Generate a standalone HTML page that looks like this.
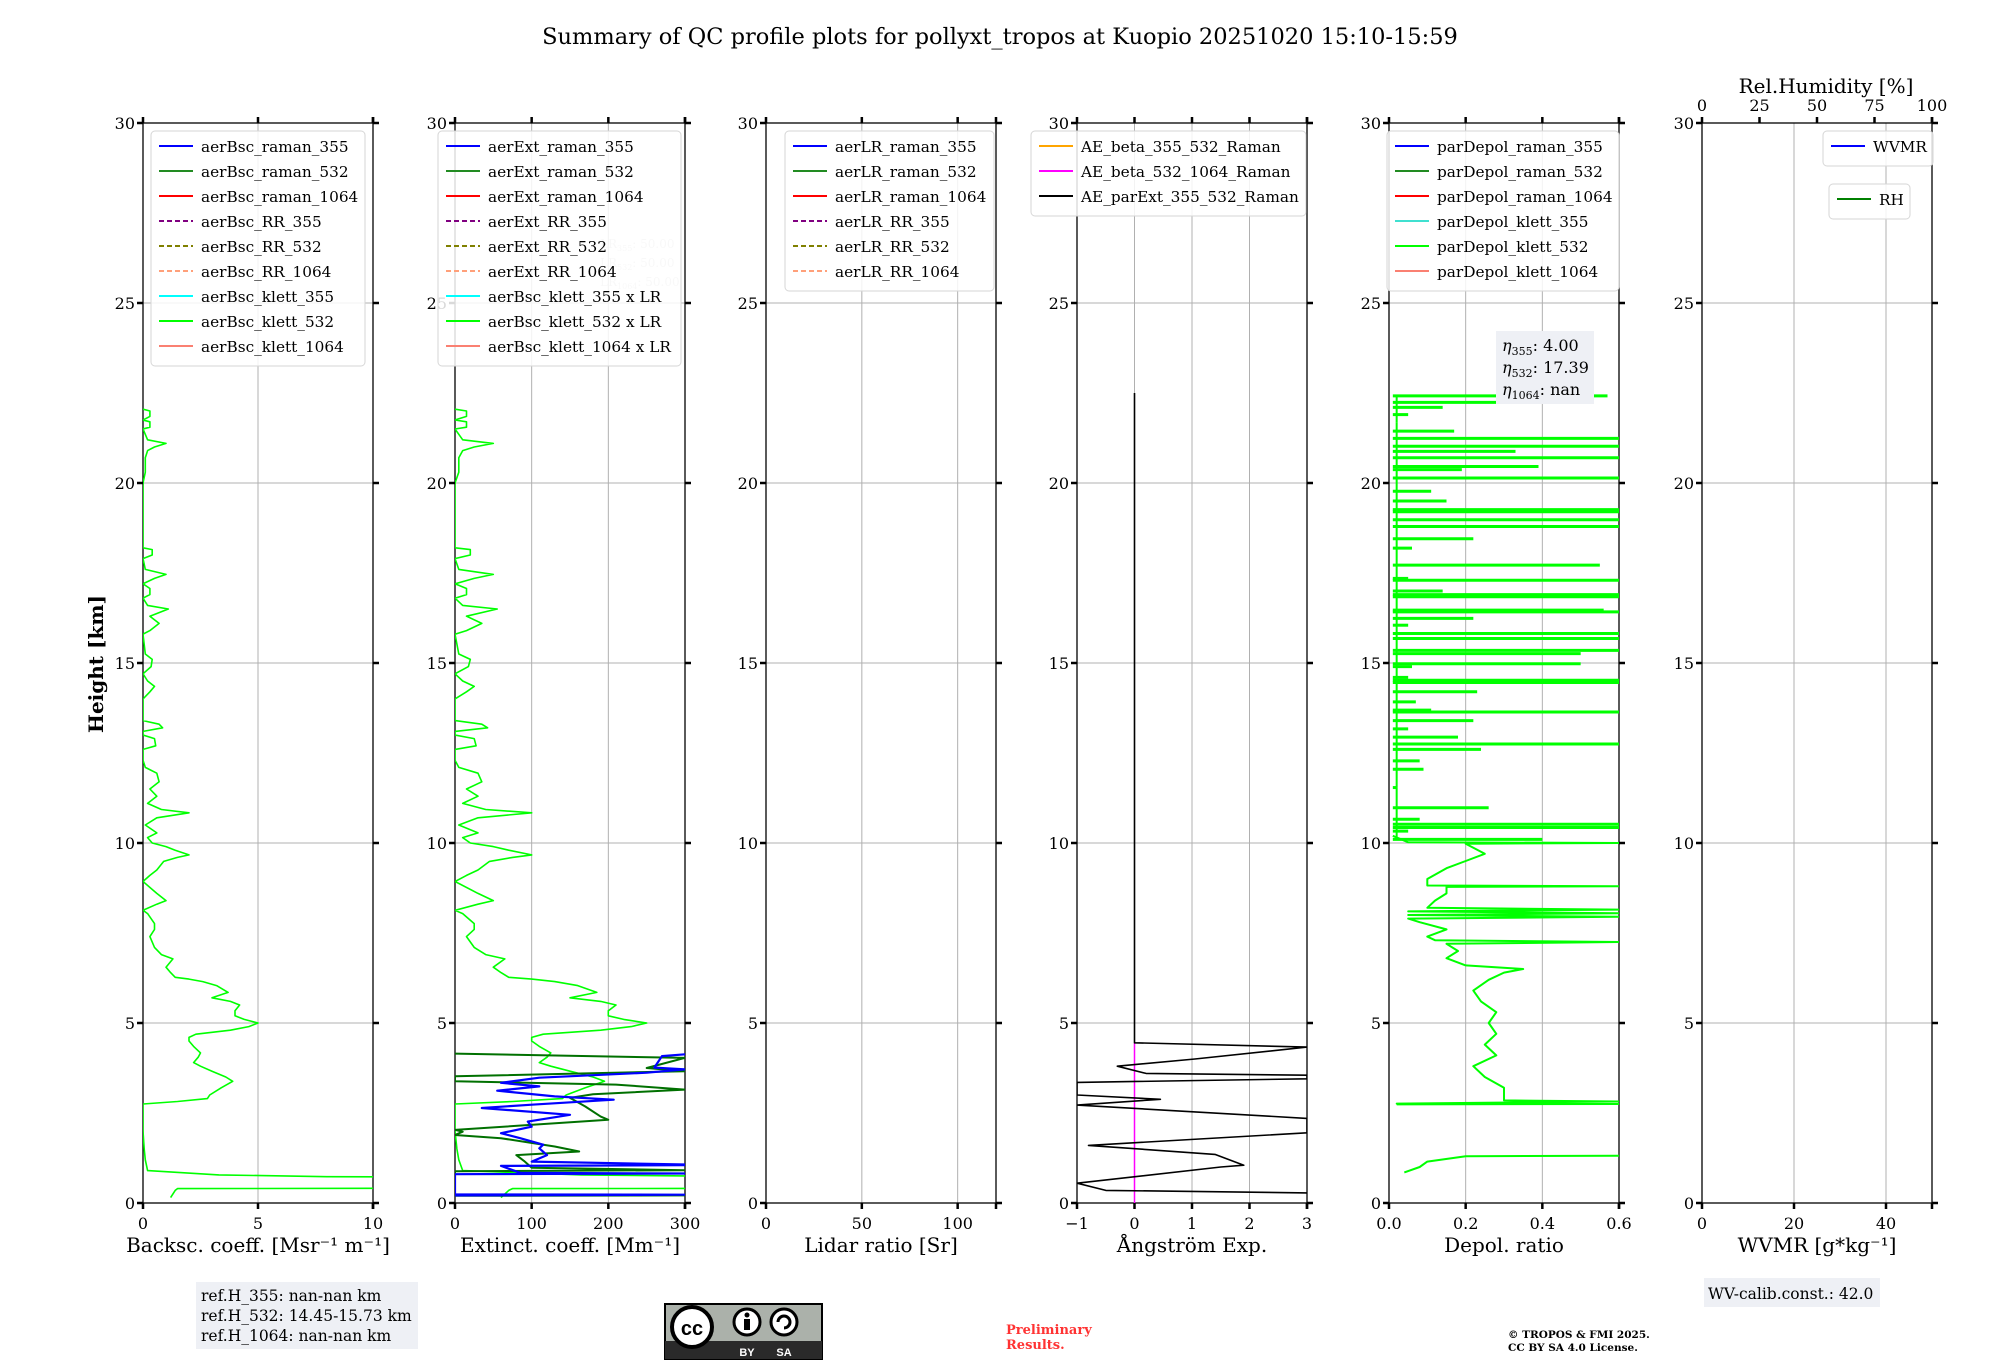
<!DOCTYPE html>
<html><head><meta charset="utf-8">
<style>
html,body{margin:0;padding:0;background:#fff;}
svg{display:block;font-family:"DejaVu Serif","Liberation Serif",serif;}
</style></head>
<body>
<svg id="fig" width="2000" height="1360" viewBox="0 0 2000 1360" xmlns="http://www.w3.org/2000/svg">
<text x="1000" y="44" text-anchor="middle" font-size="22.5" fill="#000">Summary of QC profile plots for pollyxt_tropos at Kuopio 20251020 15:10-15:59</text>
</svg>
<script>
// ---------- data ----------
const yTicks = [0,5,10,15,20,25,30];
const bscHeights = [0.15,0.35,0.40,0.41,0.72,0.73,0.78,0.9,1.2,1.5,2.0,2.75,2.82,2.9,3.0,3.2,3.38,3.5,3.66,3.8,3.9,4.05,4.17,4.35,4.5,4.6,4.69,4.8,4.9,5.0,5.1,5.2,5.34,5.5,5.6,5.7,5.85,6.04,6.15,6.22,6.27,6.4,6.55,6.78,6.9,7.1,7.4,7.6,7.76,8.04,8.13,8.3,8.4,8.6,8.93,9.1,9.25,9.49,9.6,9.67,9.8,9.9,10.0,10.15,10.28,10.5,10.7,10.84,10.93,11.1,11.3,11.5,11.7,11.94,12.1,12.3,12.6,12.7,12.9,13.0,13.1,13.2,13.3,13.4,14.0,14.2,14.35,14.5,14.7,14.9,15.1,15.25,15.8,15.9,16.1,16.3,16.5,16.6,16.8,16.9,17.07,17.2,17.35,17.46,17.6,17.9,18.0,18.15,18.2,19.5,20.0,20.3,20.5,20.7,20.9,21.0,21.1,21.2,21.5,21.55,21.7,21.75,21.85,22.0,22.05];
const bscValues = [1.2,1.4,1.5,14,14,8,3.3,0.2,0.1,0.05,0.0,0.0,1.5,2.8,2.9,3.4,3.9,3.6,3.0,2.5,2.2,2.4,2.5,2.2,2.0,2.0,2.3,3.8,4.6,5.0,4.4,4.0,4.0,4.2,3.8,3.0,3.7,3.2,2.6,2.0,1.4,1.2,1.0,1.3,0.8,0.5,0.3,0.5,0.5,0.2,0.0,0.6,1.0,0.6,0.0,0.3,0.6,0.9,1.5,2.0,1.4,1.0,0.4,0.2,0.6,0.1,0.6,2.0,0.8,0.2,0.6,0.3,0.7,0.6,0.1,0.0,0.0,0.55,0.5,0.0,0.0,0.85,0.7,0.0,0.0,0.3,0.5,0.2,0.0,0.35,0.4,0.1,0.0,0.3,0.7,0.3,1.1,0.2,0.0,0.3,0.3,0.0,0.5,1.0,0.1,0.0,0.4,0.4,0.0,0.0,0.0,0.1,0.1,0.1,0.2,0.5,1.0,0.2,0.0,0.3,0.3,0.0,0.3,0.3,0.0];
const lidarRatio532 = [50];
const ext355Heights = [0.21,0.23,0.24,0.80,0.82,0.84,1.03,1.05,1.07,1.15,1.33,1.52,1.62,1.8,1.94,2.12,2.26,2.45,2.64,2.73,2.87,2.96,3.12,3.24,3.34,3.48,3.62,3.71,3.76,4.08,4.13,4.15];
const ext355Values = [0,300,0,0,300,85,60,300,300,100,120,110,115,85,60,100,95,150,35,100,207,130,55,110,60,110,250,300,260,270,300,300];
const ext532Heights = [0.20,0.21,0.22,0.88,0.91,0.98,1.17,1.33,1.43,1.57,1.8,1.89,1.98,2.03,2.31,2.4,2.68,2.92,3.02,3.15,3.29,3.38,3.52,3.66,3.75,4.03,4.15];
const ext532Values = [0,300,0,0,300,100,90,80,162,130,60,0,10,0,200,190,170,150,180,300,210,0,0,300,250,300,0];
const aeHeights = [22.5,4.45,4.33,4.0,3.8,3.6,3.55,3.45,3.35,3.0,2.88,2.72,2.35,2.2,1.95,1.6,1.35,1.05,1.0,0.55,0.35,0.28];
const aeValues = [0,0,3,1.05,-0.3,0.2,3,3,-1,-1,0.45,-1,3,3,3,-0.8,1.4,1.9,1.5,-1,-0.5,3];
const ae532Heights = [0,4.45];
const ae532Values = [0,0];
const depolHeights = [0.85,1.0,1.15,1.3,1.31,1.33,1.35,2.74,2.75,2.76,2.82,2.85,3.0,3.2,3.5,3.8,4.1,4.4,4.7,5.0,5.3,5.6,5.9,6.2,6.4,6.5,6.6,6.8,7.0,7.2,7.25,7.3,7.4,7.6,7.8,7.9,7.95,8.0,8.05,8.1,8.15,8.2,8.4,8.6,8.78,8.8,8.82,9.0,9.3,9.5,9.7,9.98,10.0,10.02,10.2];
const depolValues = [0.04,0.08,0.1,0.2,0.6,0.6,NaN,0.02,0.6,0.02,0.6,0.3,0.3,0.3,0.25,0.22,0.28,0.25,0.28,0.26,0.28,0.24,0.22,0.26,0.3,0.35,0.2,0.15,0.18,0.15,0.6,0.12,0.1,0.15,0.08,0.05,0.6,0.05,0.6,0.05,0.6,0.1,0.12,0.15,0.15,0.6,0.1,0.1,0.15,0.2,0.25,0.2,0.6,0.05,0.01];
const depolSpikeHeights = [10.1,10.33,10.43,10.52,10.66,10.98,11.54,12.05,12.28,12.6,12.75,12.94,13.17,13.4,13.64,13.69,13.92,14.2,14.46,14.52,14.6,14.9,14.98,15.26,15.35,15.68,15.82,16.05,16.24,16.42,16.47,16.84,16.9,17.0,17.3,17.35,17.72,18.19,18.45,18.79,18.98,19.2,19.26,19.5,19.77,20.14,20.37,20.46,20.7,20.88,21.02,21.24,21.44,21.67,21.9,22.1,22.24,22.42];
const depolSpikeValues = [0.4,0.05,0.6,0.6,0.08,0.26,0.02,0.09,0.08,0.24,0.6,0.18,0.05,0.22,0.6,0.11,0.07,0.23,0.6,0.6,0.05,0.06,0.5,0.5,0.6,0.6,0.6,0.05,0.22,0.6,0.56,0.6,0.6,0.14,0.6,0.05,0.55,0.06,0.22,0.6,0.6,0.6,0.6,0.15,0.11,0.6,0.19,0.39,0.6,0.33,0.6,0.6,0.17,0.01,0.05,0.14,0.45,0.57];

// ---------- layout ----------
const NS = "http://www.w3.org/2000/svg";
const svg = document.getElementById('fig');
const TOP = 123, BOT = 1203, PW = 230;
const panels = [
 {left:143, xmin:0, xmax:10, xt:[0,5,10], xl:['0','5','10'], label:'Backsc. coeff. [Msr\u207B\u00B9 m\u207B\u00B9]'},
 {left:455, xmin:0, xmax:300, xt:[0,100,200,300], xl:['0','100','200','300'], label:'Extinct. coeff. [Mm\u207B\u00B9]'},
 {left:766, xmin:0, xmax:120, xt:[0,50,100], xl:['0','50','100'], label:'Lidar ratio [Sr]'},
 {left:1077, xmin:-1, xmax:3, xt:[-1,0,1,2,3], xl:['\u22121','0','1','2','3'], label:'\u00C5ngstr\u00F6m Exp.'},
 {left:1389, xmin:0, xmax:0.6, xt:[0,0.2,0.4,0.6], xl:['0.0','0.2','0.4','0.6'], label:'Depol. ratio'},
 {left:1702, xmin:0, xmax:50, xt:[0,20,40], xl:['0','20','40'], label:'WVMR [g*kg\u207B\u00B9]'}
];
function X(p,v){return p.left + (v-p.xmin)/(p.xmax-p.xmin)*PW;}
function Y(h){return BOT - (h/30)*(BOT-TOP);}
function el(tag, attrs, parent){const e=document.createElementNS(NS,tag);for(const k in attrs)e.setAttribute(k,attrs[k]);(parent||svg).appendChild(e);return e;}

const defs = el('defs',{});
panels.forEach((p,i)=>{
  const cp = el('clipPath',{id:'clip'+i},defs);
  el('rect',{x:p.left,y:TOP,width:PW,height:BOT-TOP},cp);
});

function polyline(p, i, hs, vs, color, w, name){
  let d='', pen=false;
  hs.forEach((h,k)=>{
    const v=vs[k];
    if(isNaN(v)){pen=false;return;}
    d += (pen?'L':'M') + X(p,v).toFixed(1)+' '+Y(h).toFixed(1)+' ';
    pen=true;
  });
  const e = el('path',{d:d,fill:'none',stroke:color,'stroke-width':w,'clip-path':'url(#clip'+i+')','stroke-linejoin':'round'});
  
  
  return e;
}

panels.forEach((p,i)=>{
  const g = el('g',{});
  
  
  p.xt.forEach(v=>{ const l=el('line',{x1:X(p,v),x2:X(p,v),y1:TOP,y2:BOT,stroke:'#b0b0b0','stroke-width':1},g);
      });
  yTicks.forEach(h=>{ const l=el('line',{x1:p.left,x2:p.left+PW,y1:Y(h),y2:Y(h),stroke:'#b0b0b0','stroke-width':1},g);
      });
  const fr = el('rect',{x:p.left,y:TOP,width:PW,height:BOT-TOP,fill:'none',stroke:'#000','stroke-width':1.3},g);
   
  yTicks.forEach(h=>{
    el('line',{x1:p.left-6,x2:p.left,y1:Y(h),y2:Y(h),stroke:'#000','stroke-width':2.5},g);
    el('line',{x1:p.left+PW,x2:p.left+PW+6,y1:Y(h),y2:Y(h),stroke:'#000','stroke-width':2.5},g);
    const t=el('text',{x:p.left-8,y:Y(h)+6,'text-anchor':'end','font-size':16},g); t.textContent=h;
     
  });
  p.xt.forEach((v,k)=>{
    el('line',{x1:X(p,v),x2:X(p,v),y1:BOT,y2:BOT+6,stroke:'#000','stroke-width':2.5},g);
    if(i!==5) el('line',{x1:X(p,v),x2:X(p,v),y1:TOP-6,y2:TOP,stroke:'#000','stroke-width':2.5},g);
    const t=el('text',{x:X(p,v),y:BOT+26,'text-anchor':'middle','font-size':16},g); t.textContent=p.xl[k];
     
  });
  el('line',{x1:p.left+PW,x2:p.left+PW,y1:BOT,y2:BOT+6,stroke:'#000','stroke-width':2.5},g);
  el('line',{x1:p.left+PW,x2:p.left+PW,y1:TOP-6,y2:TOP,stroke:'#000','stroke-width':2.5},g);
  const xl=el('text',{x:p.left+PW/2,y:1252,'text-anchor':'middle','font-size':20},g); xl.textContent=p.label;
   
});

const P=panels;
polyline(P[0],0,bscHeights,bscValues,'#00ff00',1.6,'aerBsc-klett-532-line');
polyline(P[1],1,bscHeights,bscValues.map(v=>v*lidarRatio532[0]),'#00ff00',1.6,'aerBsc-klett-532-x-lr-line');
polyline(P[1],1,ext532Heights,ext532Values,'#007000',2,'aerExt-raman-532-line');
polyline(P[1],1,ext355Heights,ext355Values,'#0000ff',2.2,'aerExt-raman-355-line');
polyline(P[3],3,ae532Heights,ae532Values,'#ff00ff',1.5,'ae-beta-532-1064-line');
polyline(P[3],3,aeHeights,aeValues,'#000000',1.6,'ae-parext-355-532-line');
polyline(P[4],4,depolHeights,depolValues,'#00ff00',2,'pardepol-klett-532-line');
depolSpikeHeights.forEach((h,k)=>{
  const l=el('line',{x1:X(P[4],0.01),x2:X(P[4],depolSpikeValues[k]),y1:Y(h),y2:Y(h),stroke:'#00ff00','stroke-width':3,'clip-path':'url(#clip4)'});
   
  if(k>0){const l2=el('line',{x1:X(P[4],0.02),x2:X(P[4],0.02),y1:Y(h),y2:Y(depolSpikeHeights[k-1]),stroke:'#00ff00','stroke-width':2,'clip-path':'url(#clip4)'});
   }
});

['355','532','1064'].forEach((w,k)=>{
  const t=el('text',{x:600,y:248+k*19,'font-size':12,fill:'#cfcfcf'});
   
  t.innerHTML='LR<tspan font-size="8" dy="3">'+w+'</tspan><tspan dy="-3">: 50.00</tspan>';
});

function legend(x,y,w,items,name){
  const g=el('g',{});  
  el('rect',{x:x,y:y,width:w,height:items.length*25+10,rx:4,fill:'#fff','fill-opacity':0.85,stroke:'#d6d6d6','stroke-width':1},g);
  items.forEach((it,k)=>{
    const cy=y+15+k*25;
    const ln=el('line',{x1:x+8,x2:x+42,y1:cy,y2:cy,stroke:it[1],'stroke-width':2},g);
    if(it[2]) ln.setAttribute('stroke-dasharray','5,3');
    const t=el('text',{x:x+50,y:cy+6,'font-size':15.3},g); t.textContent=it[0];
     
  });
}
const cols=[['#0000ff'],['#228b22'],['#ff0000'],['#800080',1],['#808000',1],['#ffa07a',1],['#00ffff'],['#00ff00'],['#fa8072']];
function mk(names){return names.map((n,k)=>[n,cols[k][0],cols[k][1]]);}
legend(151,131,214,mk(['aerBsc_raman_355','aerBsc_raman_532','aerBsc_raman_1064','aerBsc_RR_355','aerBsc_RR_532','aerBsc_RR_1064','aerBsc_klett_355','aerBsc_klett_532','aerBsc_klett_1064']),'backscatter-legend');
legend(438,131,243,mk(['aerExt_raman_355','aerExt_raman_532','aerExt_raman_1064','aerExt_RR_355','aerExt_RR_532','aerExt_RR_1064','aerBsc_klett_355 x LR','aerBsc_klett_532 x LR','aerBsc_klett_1064 x LR']),'extinction-legend');
legend(785,131,209,mk(['aerLR_raman_355','aerLR_raman_532','aerLR_raman_1064','aerLR_RR_355','aerLR_RR_532','aerLR_RR_1064']),'lidar-ratio-legend');
legend(1031,131,275,[['AE_beta_355_532_Raman','#ffa500'],['AE_beta_532_1064_Raman','#ff00ff'],['AE_parExt_355_532_Raman','#000000']],'angstrom-legend');
legend(1387,131,232,[['parDepol_raman_355','#0000ff'],['parDepol_raman_532','#228b22'],['parDepol_raman_1064','#ff0000'],['parDepol_klett_355','#40e0d0'],['parDepol_klett_532','#00ff00'],['parDepol_klett_1064','#fa8072']],'depol-legend');
legend(1823,131,110,[['WVMR','#0000ff']],'wvmr-legend');
legend(1829,184,81,[['RH','#008000']],'rh-legend');
</script>
<script>
(function(){
const NS="http://www.w3.org/2000/svg", svg=document.getElementById('fig');
function el(tag,a,p){const e=document.createElementNS(NS,tag);for(const k in a)e.setAttribute(k,a[k]);(p||svg).appendChild(e);return e;}
const yt=el('text',{x:0,y:0,'font-size':20,'font-weight':'bold',transform:'translate(103,664) rotate(-90)','text-anchor':'middle'});
yt.textContent='Height [km]';  
const rhTicks=[0,25,50,75,100];
rhTicks.forEach(v=>{const x=1702+v/100*230;
  el('line',{x1:x,x2:x,y1:117,y2:123,stroke:'#000','stroke-width':2.5});
  const t=el('text',{x:x,y:111,'text-anchor':'middle','font-size':16}); t.textContent=v;
   });
const rt=el('text',{x:1826,y:93,'text-anchor':'middle','font-size':20}); rt.textContent='Rel.Humidity [%]';
 
const eg=el('g',{});  
el('rect',{x:1496,y:331,width:98,height:73,fill:'#eef0f5'},eg);
[['355','4.00'],['532','17.39'],['1064','nan']].forEach((a,k)=>{
  const t=el('text',{x:1502,y:351+k*22,'font-size':16},eg);
  t.innerHTML='<tspan font-style="italic">\u03B7</tspan><tspan font-size="11" dy="4">'+a[0]+'</tspan><tspan dy="-4">: '+a[1]+'</tspan>';
});
const rg=el('g',{});  
el('rect',{x:196,y:1282,width:222,height:67,fill:'#eef0f5'},rg);
['ref.H_355: nan-nan km','ref.H_532: 14.45-15.73 km','ref.H_1064: nan-nan km'].forEach((s,k)=>{
  const t=el('text',{x:201,y:1301+k*20,'font-size':15.5},rg); t.textContent=s;});
const wg=el('g',{});  
el('rect',{x:1704,y:1278,width:176,height:29,fill:'#eef0f5'},wg);
const wt=el('text',{x:1708,y:1299,'font-size':15.5},wg); wt.textContent='WV-calib.const.: 42.0';
const cg=el('g',{});  
el('rect',{x:665,y:1304,width:157,height:55,fill:'#abb1aa',stroke:'#000','stroke-width':2},cg);
el('rect',{x:665,y:1341,width:157,height:18,fill:'#2a2a2a'},cg);
el('circle',{cx:692,cy:1327,r:20,fill:'#fff',stroke:'#000','stroke-width':4},cg);
const cc=el('text',{x:692,y:1335,'text-anchor':'middle','font-size':20,'font-weight':'bold','font-family':'Liberation Sans, sans-serif'},cg); cc.textContent='cc';
el('circle',{cx:747,cy:1322,r:13,fill:'#fff',stroke:'#000','stroke-width':3},cg);
el('circle',{cx:747,cy:1315,r:2.5,fill:'#000'},cg);
el('rect',{x:744,y:1319,width:6,height:11,fill:'#000'},cg);
el('circle',{cx:784,cy:1322,r:13,fill:'#fff',stroke:'#000','stroke-width':3},cg);
el('path',{d:'M778 1322 A6 6 0 1 1 784 1328',fill:'none',stroke:'#000','stroke-width':3},cg);
const by=el('text',{x:747,y:1356,'text-anchor':'middle','font-size':11,fill:'#fff','font-weight':'bold','font-family':'Liberation Sans, sans-serif'},cg); by.textContent='BY';
const sa=el('text',{x:784,y:1356,'text-anchor':'middle','font-size':11,fill:'#fff','font-weight':'bold','font-family':'Liberation Sans, sans-serif'},cg); sa.textContent='SA';
const pr=el('text',{x:1006,y:1334,'font-size':13,'font-weight':'bold',fill:'#ff3333'});
pr.innerHTML='<tspan x="1006">Preliminary</tspan><tspan x="1006" dy="15">Results.</tspan>';
 
const cr=el('text',{x:1508,y:1338,'font-size':10.5,'font-weight':'bold'});
cr.innerHTML='<tspan x="1508">\u00A9 TROPOS &amp; FMI 2025.</tspan><tspan x="1508" dy="13">CC BY SA 4.0 License.</tspan>';
 
})();
</script>
</body></html>
